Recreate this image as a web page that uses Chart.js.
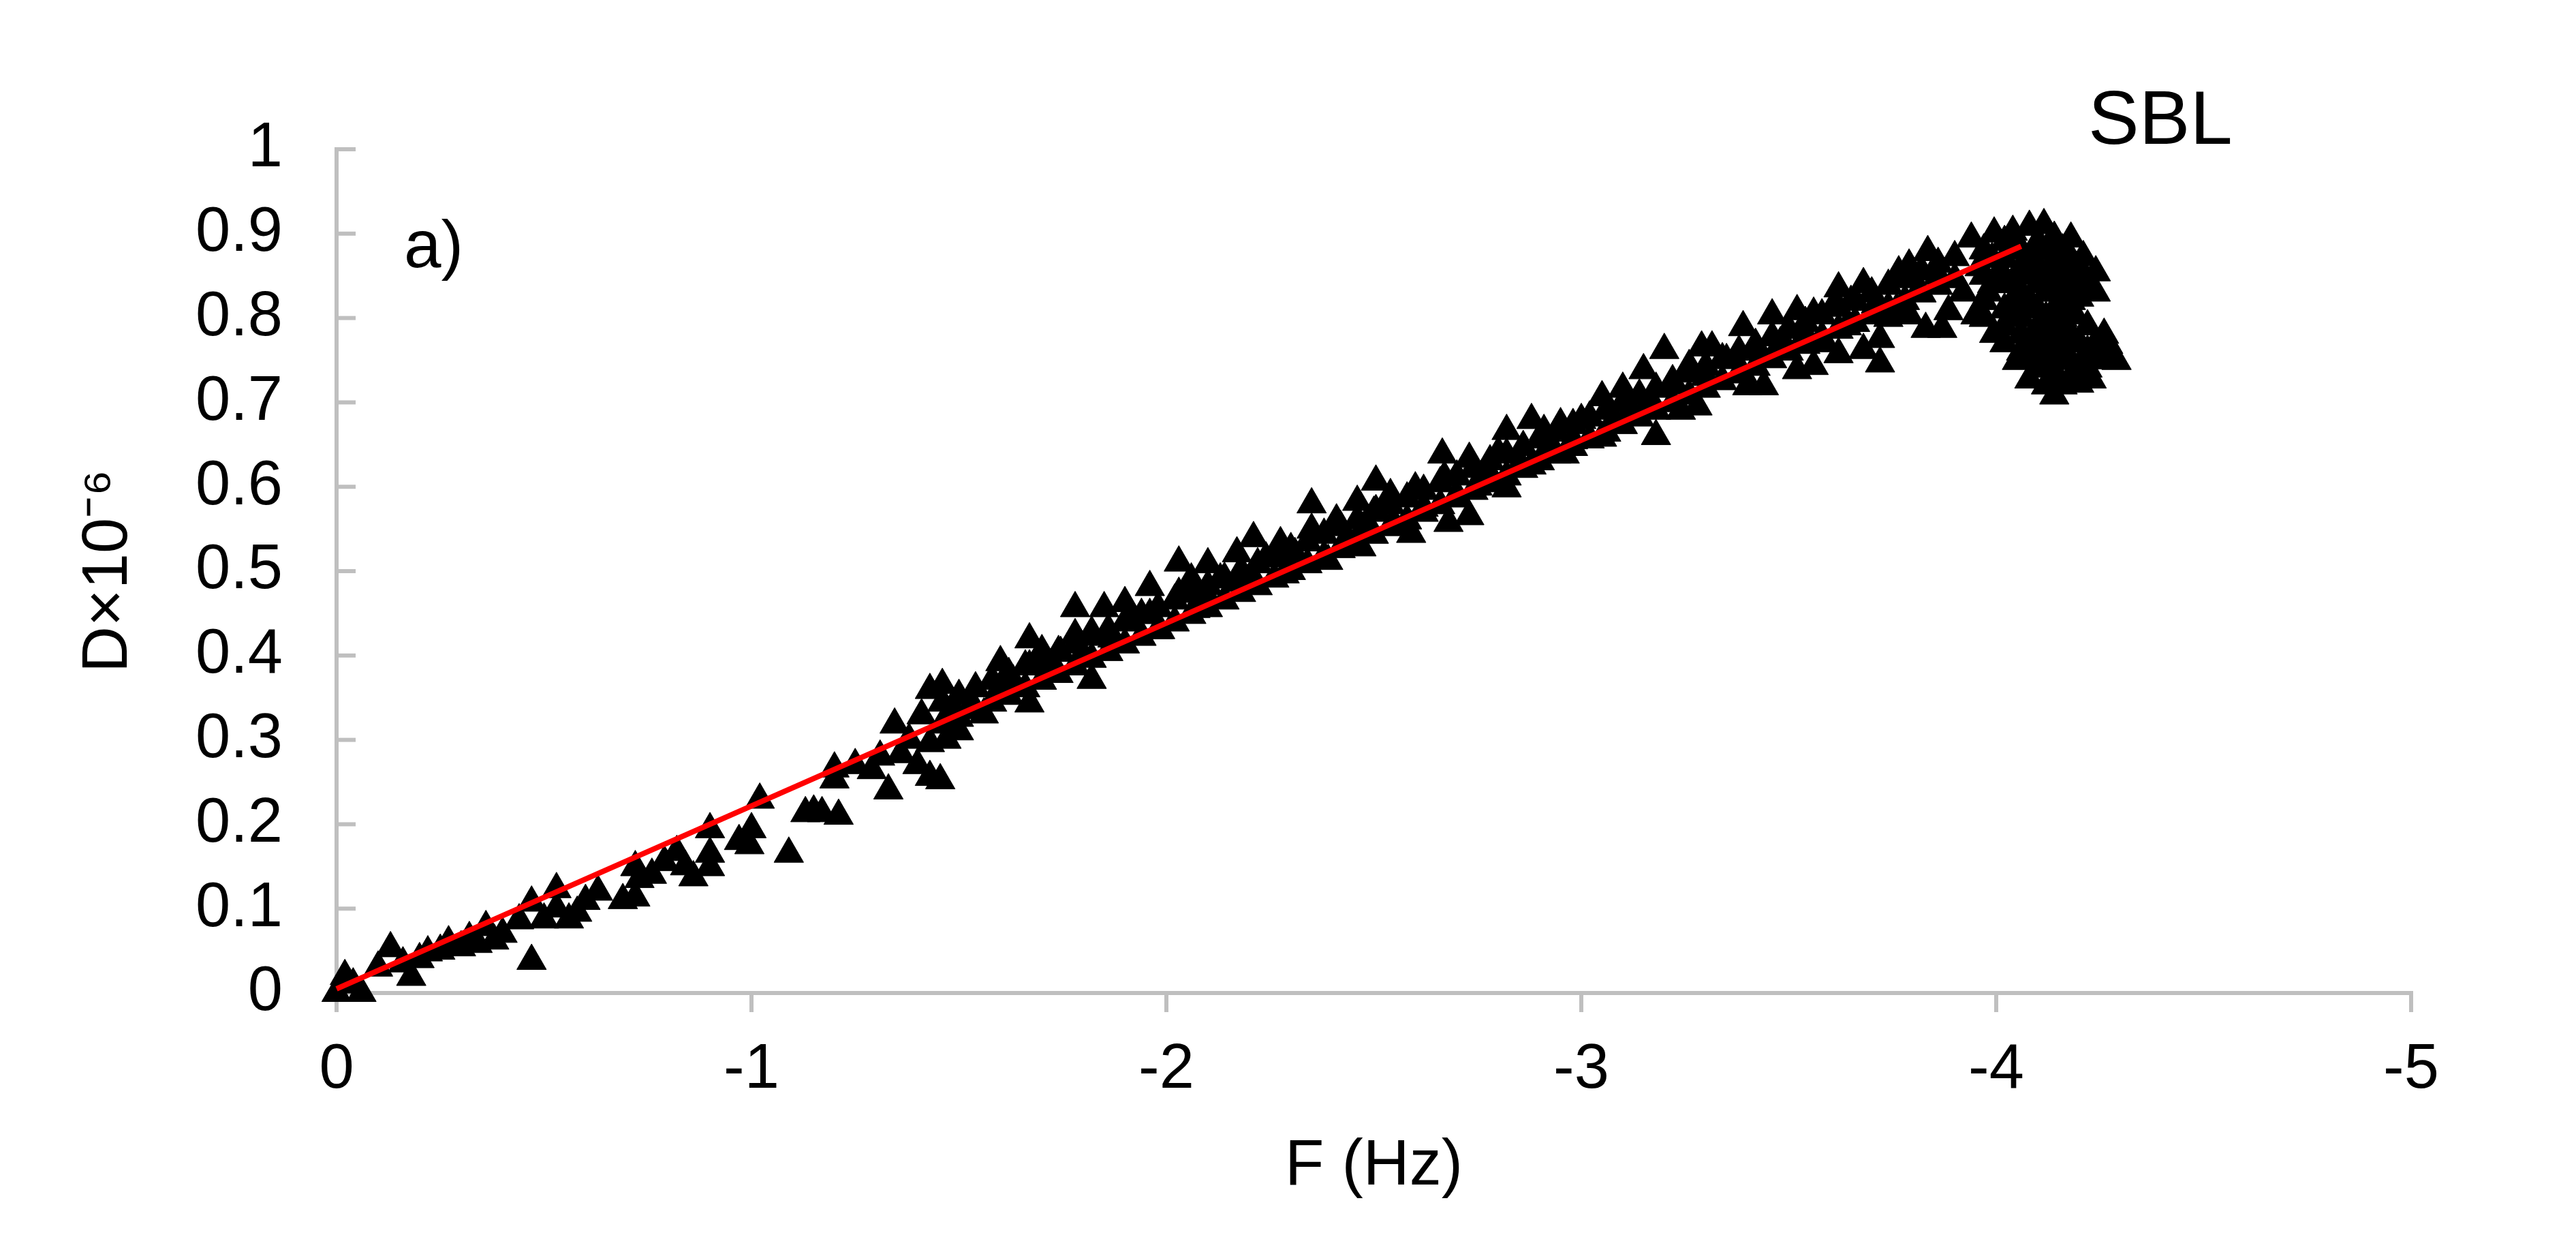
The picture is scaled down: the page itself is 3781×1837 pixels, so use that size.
<!DOCTYPE html>
<html>
<head>
<meta charset="utf-8">
<script src="https://cdn.jsdelivr.net/npm/chart.js@4.4.1/dist/chart.umd.min.js"></script>
<style>
html, body { margin: 0; padding: 0; background: #fff; }
#wrap { width: 3781px; height: 1837px; }
</style>
</head>
<body>
<div id="wrap"><canvas id="myChart" width="3781" height="1837"></canvas></div>
<script>
var freqF = [
    0, -0.02, -0.04, -0.06, -0.10, -0.13, -0.16, -0.18, -0.20, -0.22, -0.25, -0.27, -0.30, -0.32, -0.34,
    -0.36, -0.38, -0.40, -0.44, -0.47, -0.47, -0.50, -0.53, -0.53, -0.56, -0.58, -0.60, -0.63, -0.69,
    -0.72, -0.73, -0.72, -0.76, -0.79, -0.82, -0.84, -0.86, -0.90, -0.90, -0.90, -0.97, -0.995, -1.0,
    -1.02, -1.09, -1.13, -1.15, -1.17, -1.21, -1.20, -1.20, -1.25, -1.29, -1.33, -1.31, -1.345, -1.36,
    -1.38, -1.41, -1.43, -1.43, -1.43, -1.40,
    -1.455, -1.46, -1.47, -1.50, -1.48, -1.53, -1.56, -1.60, -1.60, -1.63, -1.67, -1.67, -1.67, -1.70,
    -1.745, -1.72, -1.78, -1.78, -1.82, -1.82, -1.80, -1.85, -1.87, -1.90, -1.92, -1.96, -1.96, -1.985,
    -2.03, -2.03, -2.06, -2.07, -2.10, -2.10, -2.13, -2.17, -2.17,
    -2.21, -2.21, -2.24, -2.275, -2.285, -2.31, -2.35, -2.35, -2.39, -2.41, -2.43, -2.46, -2.47, -2.48,
    -2.505, -2.505, -2.54, -2.55, -2.59, -2.60, -2.62, -2.665, -2.67, -2.68, -2.70, -2.73, -2.73, -2.75,
    -2.78, -2.80, -2.82, -2.82, -2.85, -2.88, -2.88, -2.91, -2.92,
    -2.95, -2.96, -2.98, -3.00, -3.05, -3.05, -3.08, -3.10, -3.12, -3.15, -3.18, -3.17, -3.20, -3.22,
    -3.26, -3.24, -3.29, -3.28, -3.30, -3.315, -3.35, -3.39, -3.39, -3.40, -3.42, -3.46, -3.44, -3.48,
    -3.52, -3.52, -3.54, -3.56, -3.56, -3.58, -3.61, -3.62, -3.62, -3.65, -3.64,
    -3.68, -3.68, -3.72, -3.72, -3.71, -3.74, -3.765, -3.76, -3.79, -3.79, -3.81, -3.835, -3.83, -3.86,
    -3.87, -3.885, -3.92, -3.94, -3.95, -3.96, -3.98, -3.995, -3.995, -4.01, -4.04, -4.04, -4.05, -4.06,
    -4.07, -4.08, -4.08, -4.09, -4.10, -4.115, -4.12, -4.14, -4.14, -4.15, -4.16, -4.18, -4.18, -4.19,
    -4.20, -4.20, -4.21, -4.22, -4.23, -4.24, -4.25, -4.27, -4.29, -4.13, -4.11, -4.02, -4.16,
    // dense part of the band
    -1.46, -1.46, -1.50, -1.50, -1.54, -1.54, -1.58, -1.58, -1.62, -1.62, -1.66, -1.66, -1.70, -1.70,
    -1.74, -1.74, -1.78, -1.78, -1.82, -1.82, -1.86, -1.86, -1.90, -1.90, -1.94, -1.94, -1.98, -1.98,
    -2.02, -2.02, -2.06, -2.06, -2.10, -2.10, -2.14, -2.14, -2.18, -2.18, -2.22, -2.22, -2.26, -2.26,
    -2.30, -2.30, -2.34, -2.34, -2.38, -2.38, -2.42, -2.42, -2.46, -2.46, -2.50, -2.50, -2.54, -2.54,
    -2.58, -2.58, -2.62, -2.62, -2.66, -2.66, -2.70, -2.70, -2.74, -2.74, -2.78, -2.78, -2.82, -2.82,
    -2.86, -2.86, -2.90, -2.90, -2.94, -2.94, -2.98, -2.98, -3.02, -3.02, -3.06, -3.06, -3.10, -3.10,
    -3.14, -3.14, -3.18, -3.18, -3.22, -3.22, -3.26, -3.26, -3.30, -3.30, -3.34, -3.34, -3.38, -3.38,
    -3.42, -3.42, -3.46, -3.46, -3.50, -3.50, -3.54, -3.54, -3.58, -3.58, -3.62, -3.62, -3.66, -3.66,
    -3.70, -3.70, -3.74, -3.74, -3.78, -3.78, -3.82, -3.82, -3.86, -3.86, -3.90, -3.90,
    // blob at the far end
    -3.97, -3.97, -3.97, -3.97,
    -4.02, -4.02, -4.02, -4.02, -4.02,
    -4.06, -4.06, -4.06, -4.06, -4.06,
    -4.10, -4.10, -4.10, -4.10, -4.10, -4.10, -4.10,
    -4.14, -4.14, -4.14, -4.14, -4.14, -4.14, -4.14,
    -4.18, -4.18, -4.18, -4.18, -4.18, -4.18,
    -4.22, -4.22, -4.22, -4.22,
    -4.26, -4.26,
    -3.99, -3.99,
    -4.04, -4.04, -4.04,
    -4.08, -4.08, -4.08, -4.08,
    -4.12, -4.12, -4.12, -4.12, -4.12, -4.12,
    -4.16, -4.16, -4.16, -4.16, -4.16, -4.16,
    -4.20, -4.20, -4.20, -4.20,
    -4.24, -4.24, -4.24
];
var dispD = [
    0.00, 0.02, 0.01, 0.00, 0.03, 0.053, 0.035, 0.019, 0.04, 0.048, 0.05, 0.06, 0.054, 0.065, 0.058,
    0.078, 0.062, 0.07, 0.086, 0.107, 0.038, 0.087, 0.10, 0.123, 0.087, 0.095, 0.109, 0.12, 0.11,
    0.113, 0.135, 0.149, 0.14, 0.155, 0.167, 0.15, 0.137, 0.194, 0.165, 0.149, 0.18, 0.175, 0.194,
    0.229, 0.165, 0.213, 0.215, 0.213, 0.21, 0.266, 0.253, 0.27, 0.264, 0.24, 0.28, 0.318, 0.283,
    0.30, 0.329, 0.359, 0.256, 0.296, 0.27,
    0.252, 0.365, 0.30, 0.31, 0.335, 0.341, 0.33, 0.392, 0.363, 0.37, 0.419, 0.343, 0.387, 0.405,
    0.403, 0.385, 0.456, 0.424, 0.371, 0.427, 0.40, 0.456, 0.42, 0.462, 0.44, 0.481, 0.448, 0.43,
    0.51, 0.473, 0.49, 0.455, 0.508, 0.468, 0.49, 0.521, 0.486,
    0.539, 0.49, 0.515, 0.533, 0.496, 0.52, 0.579, 0.549, 0.512, 0.56, 0.535, 0.582, 0.528, 0.555,
    0.606, 0.571, 0.59, 0.555, 0.544, 0.598, 0.575, 0.638, 0.611, 0.557, 0.59, 0.633, 0.565, 0.60,
    0.614, 0.64, 0.666, 0.598, 0.625, 0.679, 0.625, 0.666, 0.645,
    0.674, 0.638, 0.655, 0.679, 0.706, 0.658, 0.68, 0.716, 0.69, 0.738, 0.66, 0.70, 0.762, 0.72,
    0.743, 0.69, 0.765, 0.695, 0.73, 0.765, 0.75, 0.789, 0.733, 0.719, 0.76, 0.803, 0.719, 0.77,
    0.808, 0.738, 0.78, 0.805, 0.743, 0.77, 0.816, 0.835, 0.757, 0.819, 0.79,
    0.84, 0.762, 0.746, 0.775, 0.816, 0.80, 0.854, 0.81, 0.862, 0.803, 0.83, 0.878, 0.787, 0.85,
    0.787, 0.808, 0.83, 0.894, 0.803, 0.86, 0.83, 0.90, 0.781, 0.856, 0.902, 0.843, 0.749, 0.80,
    0.816, 0.908, 0.727, 0.87, 0.776, 0.91, 0.85, 0.83, 0.708, 0.776, 0.80, 0.894, 0.749, 0.803,
    0.824, 0.722, 0.872, 0.79, 0.727, 0.854, 0.76, 0.768, 0.749, 0.745, 0.88, 0.77, 0.86,
    // dense part of the band
    0.344, 0.318, 0.352, 0.326, 0.361, 0.335, 0.370, 0.344, 0.378, 0.352, 0.387, 0.361, 0.396, 0.370,
    0.404, 0.378, 0.413, 0.387, 0.422, 0.396, 0.430, 0.404, 0.439, 0.413, 0.448, 0.422, 0.456, 0.430,
    0.465, 0.439, 0.474, 0.448, 0.482, 0.456, 0.491, 0.465, 0.500, 0.474, 0.508, 0.482, 0.517, 0.491,
    0.526, 0.500, 0.534, 0.508, 0.543, 0.517, 0.552, 0.526, 0.560, 0.534, 0.569, 0.543, 0.578, 0.552,
    0.586, 0.560, 0.595, 0.569, 0.604, 0.578, 0.612, 0.586, 0.621, 0.595, 0.630, 0.604, 0.638, 0.612,
    0.647, 0.621, 0.656, 0.630, 0.664, 0.638, 0.673, 0.647, 0.682, 0.656, 0.690, 0.664, 0.699, 0.673,
    0.708, 0.682, 0.716, 0.690, 0.725, 0.699, 0.734, 0.708, 0.742, 0.716, 0.751, 0.725, 0.760, 0.734,
    0.768, 0.742, 0.777, 0.751, 0.786, 0.760, 0.794, 0.768, 0.803, 0.777, 0.812, 0.786, 0.820, 0.794,
    0.829, 0.803, 0.838, 0.812, 0.846, 0.820, 0.855, 0.829, 0.864, 0.838, 0.872, 0.846,
    // blob at the far end
    0.88, 0.85, 0.82, 0.80,
    0.89, 0.87, 0.84, 0.81, 0.79,
    0.88, 0.86, 0.83, 0.78, 0.76,
    0.89, 0.86, 0.84, 0.81, 0.79, 0.76, 0.74,
    0.895, 0.87, 0.85, 0.81, 0.79, 0.76, 0.73,
    0.87, 0.85, 0.82, 0.78, 0.77, 0.73,
    0.84, 0.76, 0.75, 0.74,
    0.78, 0.75,
    0.87, 0.84,
    0.88, 0.82, 0.80,
    0.85, 0.82, 0.77, 0.75,
    0.88, 0.83, 0.80, 0.77, 0.74, 0.72,
    0.88, 0.84, 0.82, 0.78, 0.75, 0.72,
    0.86, 0.84, 0.77, 0.74,
    0.83, 0.77, 0.75
];

// red fitted line, end points
var fitF = [0, -4.06];
var fitD = [0.005, 0.885];

var xTicks = [0, -1, -2, -3, -4, -5];
var yTicks = [0, 0.1, 0.2, 0.3, 0.4, 0.5, 0.6, 0.7, 0.8, 0.9, 1];

var xTitle = 'F (Hz)';
var yTitle = 'D×10⁻⁶';
var panelLabel = 'a)';
var seriesName = 'SBL';

var axisGrey = '#bfbfbf';
var fontFam = '"Liberation Sans", Arial, sans-serif';

var scatterPts = freqF.map(function (f, i) { return { x: f, y: dispD[i] }; });
var fitPts = fitF.map(function (f, i) { return { x: f, y: fitD[i] }; });

// y ticks point into the plot, and the two free labels
var extras = {
    id: 'extras',
    beforeDatasetsDraw: function (chart) {
        var ctx = chart.ctx;
        var ys = chart.scales.y;
        var left = chart.chartArea.left;
        ctx.save();
        ctx.strokeStyle = axisGrey;
        ctx.lineWidth = 6;
        yTicks.forEach(function (v) {
            var py = ys.getPixelForValue(v);
            ctx.beginPath();
            ctx.moveTo(left, py);
            ctx.lineTo(left + 28, py);
            ctx.stroke();
        });
        ctx.restore();
    },
    afterDraw: function (chart) {
        var ctx = chart.ctx;
        var a = chart.chartArea;
        ctx.save();
        ctx.fillStyle = '#000';
        ctx.textBaseline = 'alphabetic';
        ctx.textAlign = 'left';
        ctx.font = '98px ' + fontFam;
        ctx.fillText(panelLabel, a.left + 99, a.top + 173);
        ctx.font = '112px ' + fontFam;
        ctx.fillText(seriesName, a.left + 2571, a.top - 8);
        ctx.restore();
    }
};

Chart.defaults.color = '#000';
Chart.defaults.font.family = fontFam;

var ctx = document.getElementById('myChart').getContext('2d');
var chart = new Chart(ctx, {
    type: 'scatter',
    data: {
        datasets: [{
            label: 'data',
            data: scatterPts,
            pointStyle: 'triangle',
            pointRadius: 25,
            backgroundColor: '#000',
            borderColor: '#000',
            borderWidth: 1,
            clip: false,
            order: 1
        }, {
            type: 'line',
            label: 'fit',
            data: fitPts,
            borderColor: '#ff0000',
            borderWidth: 8,
            pointRadius: 0,
            fill: false,
            clip: false,
            order: 0
        }]
    },
    options: {
        responsive: false,
        devicePixelRatio: 1,
        animation: false,
        layout: { padding: { left: 0, right: 242, top: 219, bottom: 0 } },
        plugins: {
            legend: { display: false },
            tooltip: { enabled: false }
        },
        scales: {
            x: {
                type: 'linear',
                min: -5,
                max: 0,
                reverse: true,
                afterBuildTicks: function (s) { s.ticks = xTicks.map(function (v) { return { value: v }; }); },
                afterFit: function (s) { s.height = 380; },
                grid: { display: true, drawOnChartArea: false, drawTicks: true, tickLength: 28, lineWidth: 6, color: axisGrey },
                border: { display: true, color: axisGrey, width: 6 },
                ticks: {
                    padding: 30,
                    font: { size: 92 },
                    callback: function (v) { return String(v); }
                },
                title: {
                    display: true,
                    text: xTitle,
                    font: { size: 94 },
                    padding: { top: 0, bottom: 69 }
                }
            },
            y: {
                type: 'linear',
                min: 0,
                max: 1,
                afterBuildTicks: function (s) { s.ticks = yTicks.map(function (v) { return { value: v }; }); },
                afterFit: function (s) { s.width = 494; },
                grid: { display: false, drawTicks: false },
                border: { display: true, color: axisGrey, width: 6 },
                ticks: {
                    padding: 79,
                    font: { size: 92 },
                    callback: function (v) { return String(Number(v.toFixed(1))); }
                },
                title: {
                    display: true,
                    text: yTitle,
                    font: { size: 94 },
                    padding: { top: 104, bottom: 0 }
                }
            }
        }
    },
    plugins: [extras]
});
</script>
</body>
</html>
